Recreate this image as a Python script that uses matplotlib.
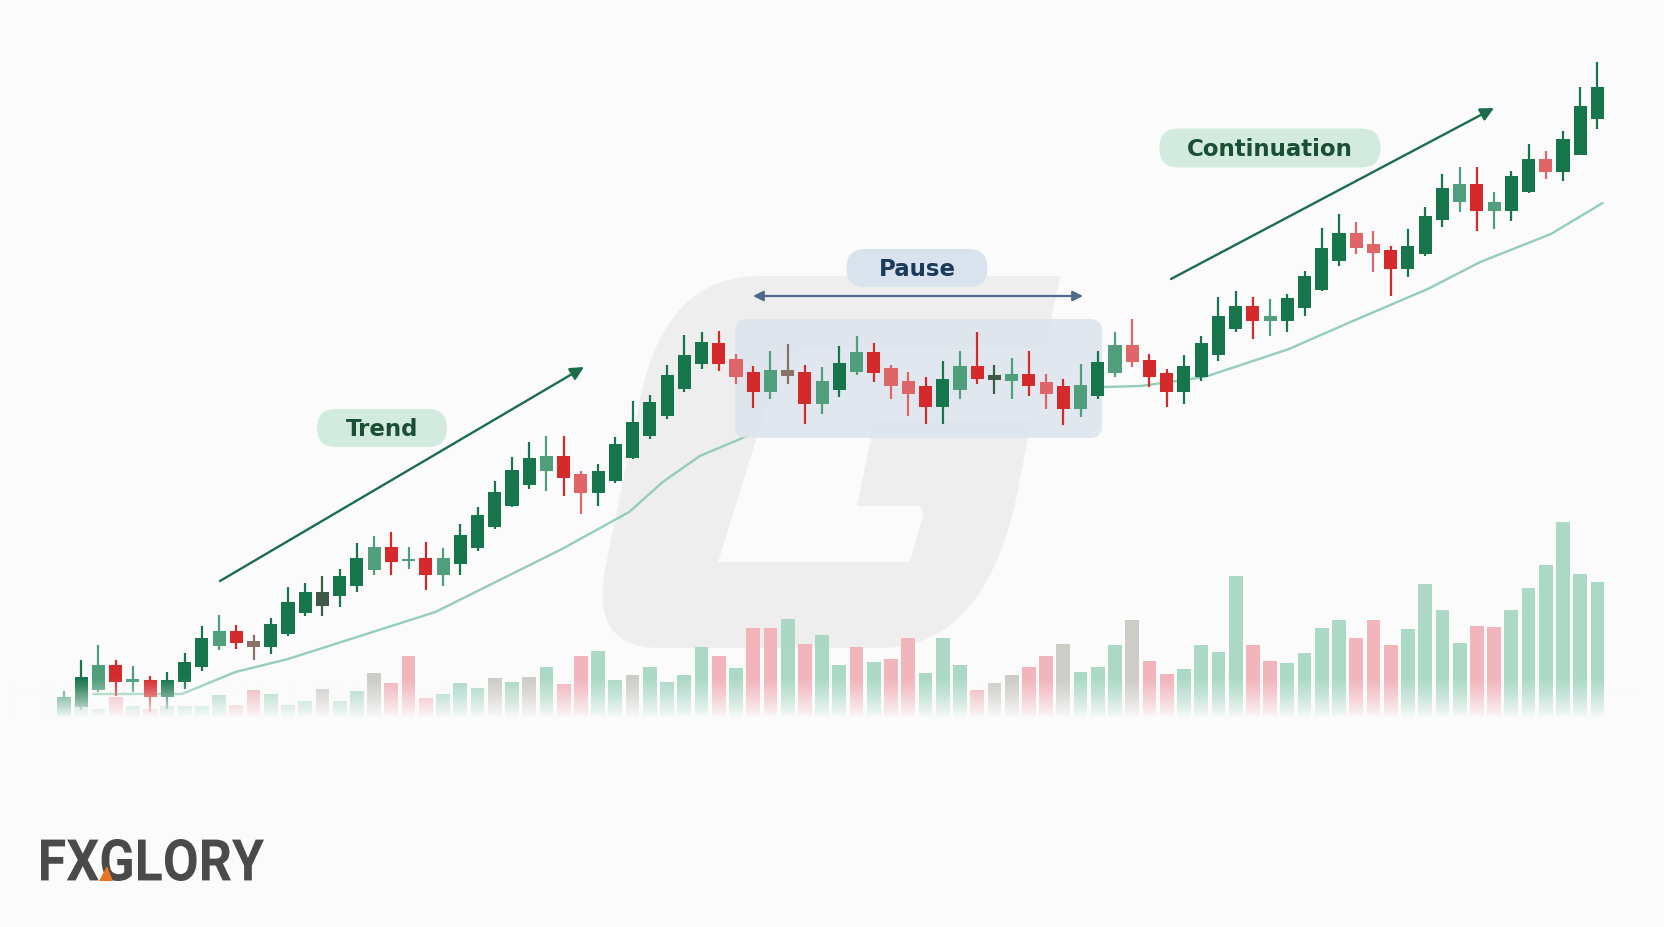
import numpy as np
import matplotlib.pyplot as plt
from matplotlib.patches import FancyBboxPatch, PathPatch, Polygon
from matplotlib.path import Path
from matplotlib.textpath import TextPath
from matplotlib.font_manager import FontProperties
from matplotlib.transforms import Affine2D

# ---- data (price units, volume units) ----
opens = [211, 220, 237, 262, 245, 247, 230, 245, 260, 281,
         296, 286, 280, 293, 314, 321, 331, 341, 357, 380,
         366, 369, 352, 363, 379, 400, 421, 442, 456, 471,
         453, 434, 446, 469, 491, 511, 538, 563, 584, 568,
         555, 535, 557, 555, 523, 537, 555, 575, 559, 546,
         541, 520, 537, 561, 547, 546, 553, 545, 541, 518,
         531, 554, 582, 567, 554, 535, 550, 572, 598, 621,
         606, 606, 619, 637, 666, 694, 683, 677, 658, 673,
         707, 725, 743, 716, 716, 735, 768, 755, 772, 808]
closes = [230, 250, 262, 245, 248, 230, 247, 265, 289, 296,
          284, 280, 303, 325, 335, 335, 351, 369, 380, 365,
          368, 352, 369, 392, 412, 435, 457, 469, 471, 449,
          434, 456, 483, 505, 525, 552, 572, 585, 563, 550,
          535, 557, 551, 523, 546, 564, 575, 554, 541, 533,
          520, 548, 561, 548, 552, 553, 541, 533, 518, 542,
          565, 582, 565, 550, 535, 561, 584, 611, 621, 606,
          611, 629, 651, 679, 694, 679, 674, 658, 681, 711,
          739, 743, 716, 725, 751, 768, 755, 788, 821, 840]
highs = [236, 267, 282, 267, 261, 251, 255, 274, 301, 312,
         302, 292, 309, 340, 344, 351, 358, 384, 391, 395,
         380, 385, 379, 403, 420, 446, 470, 485, 491, 491,
         456, 463, 490, 526, 532, 562, 592, 595, 596, 573,
         561, 576, 583, 562, 560, 581, 591, 584, 562, 555,
         550, 566, 576, 595, 562, 569, 576, 553, 548, 563,
         576, 595, 608, 573, 558, 572, 591, 630, 636, 630,
         628, 633, 656, 699, 713, 705, 696, 681, 698, 720,
         753, 760, 760, 735, 756, 783, 776, 796, 840, 865]
lows = [198, 217, 235, 231, 235, 215, 218, 238, 256, 277,
        278, 267, 273, 291, 311, 311, 320, 335, 352, 352,
        358, 337, 341, 352, 376, 398, 420, 438, 436, 431,
        413, 421, 444, 468, 488, 508, 535, 558, 556, 543,
        519, 528, 543, 503, 513, 530, 552, 545, 528, 511,
        503, 503, 528, 543, 533, 528, 531, 518, 502, 510,
        528, 550, 560, 540, 520, 523, 546, 566, 595, 588,
        591, 595, 611, 636, 661, 673, 655, 631, 650, 671,
        700, 715, 696, 698, 706, 734, 748, 746, 772, 798]
# G/g = up (dark/light), R/r = down (dark/light), n/o = neutral doji
candle_kind = ("gGgRgRGGGg" "RnGGGoGGgR" "gRgGGGGGgR" "rGGGGGGGRr" "RgnRgGgRrr"
               "RGgRogRrRg" "GgrRRGGGGR" "gGGGGrrRGG" "GgRgGGrGGG")

volumes = [17, 14, 7, 19, 10, 7, 10, 10, 10, 21,
           11, 26, 22, 11, 15, 27, 15, 25, 43, 33,
           60, 18, 22, 33, 28, 38, 34, 39, 49, 32,
           60, 65, 36, 41, 49, 34, 41, 69, 60, 48,
           88, 88, 97, 72, 81, 51, 69, 54, 57, 78,
           43, 78, 51, 26, 33, 41, 49, 60, 72, 44,
           49, 71, 96, 55, 42, 47, 71, 64, 140, 71,
           55, 53, 63, 88, 96, 78, 96, 71, 87, 132,
           106, 73, 90, 89, 106, 128, 151, 194, 142, 134]
vol_kind = ("gggrgrgggg" "rrgggnggnr" "rrgggngngr" "rggnggggrg" "rrgrggrgrr"
            "gggrnnrrng" "ggnrrggggr" "rggggrrrgg" "ggrrgggggg")

# moving average line; hidden behind the pause box in the middle
ma_x = [1.7, 6.85, 9.95, 13, 21.55, 28.9, 32.8, 34.75, 36.9, 39.65,
        50.0, 60.3, 62.5, 66.2, 71.1, 74.8, 79.15, 82.2, 86.3, 89.3]
ma_y = [233, 233, 255, 268, 315, 378, 415, 445, 471, 491,
        np.nan, 540, 541, 550, 578, 606, 638, 665, 693, 724]

labels = ["Trend", "Pause", "Continuation"]

# ---- figure ----
W, H = 1664, 928
BG = '#fbfbfb'
fig = plt.figure(figsize=(W / 100, H / 100), dpi=100, facecolor=BG)

def overlay(z):
    a = fig.add_axes([0, 0, 1, 1])
    a.set_xlim(0, W)
    a.set_ylim(H, 0)
    a.axis('off')
    a.set_zorder(z)
    a.patch.set_alpha(0)
    return a

ax_bg = overlay(0)

# watermark "G"
outer = Path([(760, 277), (1060, 277), (1020, 480), (990, 649), (880, 649),
              (660, 649), (590, 649), (605, 570), (640, 400), (665, 277),
              (760, 277), (760, 277)],
             [Path.MOVETO, Path.LINETO, Path.LINETO, Path.CURVE3, Path.CURVE3,
              Path.LINETO, Path.CURVE3, Path.CURVE3, Path.LINETO, Path.CURVE3,
              Path.CURVE3, Path.CLOSEPOLY])
ax_bg.add_patch(PathPatch(outer, facecolor='#eeeeee', edgecolor='none'))
inner = Path([(810, 350), (1120, 350), (1120, 420), (875, 420), (857, 507),
              (915, 507), (925, 507), (922, 520), (910, 563), (718, 563),
              (775, 380), (782, 350), (810, 350), (810, 350)],
             [Path.MOVETO, Path.LINETO, Path.LINETO, Path.LINETO, Path.LINETO,
              Path.LINETO, Path.CURVE3, Path.CURVE3, Path.LINETO, Path.LINETO,
              Path.LINETO, Path.CURVE3, Path.CURVE3, Path.CLOSEPOLY])
ax_bg.add_patch(PathPatch(inner, facecolor=BG, edgecolor='none'))

n = len(opens)
x = np.arange(n)
step = 17.23
xlim = (-64 / step, (W - 64) / step)

# volume axes
ax_vol = fig.add_axes([0, 0, 1, 1])
ax_vol.set_zorder(1)
ax_vol.patch.set_alpha(0)
ax_vol.axis('off')
ax_vol.set_xlim(*xlim)
ax_vol.set_ylim(-211, 717)
vcol = {'g': '#a3d6c1', 'r': '#f1aeb4', 'n': '#c9c7c2'}
ax_vol.bar(x, volumes, width=0.8, color=[vcol[k] for k in vol_kind],
           alpha=0.9, linewidth=0)

# price axes
ax = fig.add_axes([0, 0, 1, 1])
ax.set_zorder(2)
ax.patch.set_alpha(0)
ax.axis('off')
ax.set_xlim(*xlim)
ax.set_ylim(0, H)

ax.plot(ma_x, ma_y, color='#94ceb5', lw=1.7, zorder=1, solid_capstyle='round')

ax_px = overlay(-1)  # only used for its transform
box = FancyBboxPatch((735, 320), 367, 119, boxstyle='round,pad=0,rounding_size=12',
                     facecolor='#dbe3ed', edgecolor='none', alpha=0.82,
                     transform=ax_px.transData, zorder=2)
ax.add_patch(box)

ccol = {'G': '#17754b', 'g': '#4f9f7c', 'R': '#d42a2c', 'r': '#df6568',
        'n': '#8c7266', 'o': '#3f5a49'}
colors = [ccol[k] for k in candle_kind]
o = np.array(opens)
c = np.array(closes)
bottoms = np.minimum(o, c)
heights = np.maximum(np.abs(c - o), 2.5)
ax.vlines(x, lows, highs, colors=colors, linewidth=1.6, zorder=3)
ax.bar(x, heights, bottom=bottoms, width=0.76, color=colors, linewidth=0, zorder=4)

# ---- top overlay: fade, annotations, logo ----
ax_top = overlay(3)
rgb = np.array([0xfb, 0xfb, 0xfb]) / 255
img = np.zeros((60, 1, 4))
img[:, 0, :3] = rgb
img[:, 0, 3] = np.linspace(0, 1, 60) ** 1.2
ax_top.imshow(img, extent=[0, W, 720, 678], aspect='auto', interpolation='bilinear', zorder=1)
ax_top.add_patch(plt.Rectangle((0, 719), W, 40, facecolor=BG, edgecolor='none', zorder=1))
ax_top.set_xlim(0, W)
ax_top.set_ylim(H, 0)

green_dark = '#1b6e4b'
ax_top.annotate('', xy=(584, 368), xytext=(220, 582),
                arrowprops=dict(arrowstyle='-|>', color=green_dark, lw=1.7,
                                mutation_scale=20, shrinkA=0, shrinkB=0), zorder=5)
ax_top.annotate('', xy=(1494, 109), xytext=(1171, 280),
                arrowprops=dict(arrowstyle='-|>', color=green_dark, lw=1.7,
                                mutation_scale=20, shrinkA=0, shrinkB=0), zorder=5)
ax_top.annotate('', xy=(1083, 297), xytext=(753, 297),
                arrowprops=dict(arrowstyle='<|-|>', color='#4e6b8c', lw=1.6,
                                mutation_scale=15, shrinkA=0, shrinkB=0), zorder=5)

pills = [(382, 429, 130, 38, '#d3ebdf', '#1a4f36'),
         (917, 269, 141, 38, '#d9e3ed', '#1c3a5e'),
         (1270, 149, 221, 39, '#d3ebdf', '#1a4f36')]
for lab, (cx, cy, w, h, fc, tc) in zip(labels, pills):
    ax_top.add_patch(FancyBboxPatch((cx - w / 2, cy - h / 2), w, h,
                                    boxstyle='round,pad=0,rounding_size=19',
                                    facecolor=fc, edgecolor='none', zorder=4))
    ax_top.text(cx, cy + 1, lab, ha='center', va='center', fontsize=16.5,
                fontweight='bold', family='DejaVu Sans', color=tc, zorder=6)

# logo
tp = TextPath((0, 0), "FXGLORY", size=100, prop=FontProperties(family='Roboto', weight='bold'))
ext = tp.get_extents()
tr = Affine2D().translate(-ext.x0, -ext.y0).scale(223 / ext.width, -42 / ext.height).translate(41, 882)
ax_top.add_patch(PathPatch(tr.transform_path(tp), facecolor='#4a4a4a', edgecolor='none', zorder=6))
ax_top.add_patch(Polygon([(99, 882), (113, 882), (107, 867)], closed=True,
                         facecolor='#ec7424', edgecolor='none', zorder=7))

fig.savefig('out.png', dpi=100, facecolor=BG)
